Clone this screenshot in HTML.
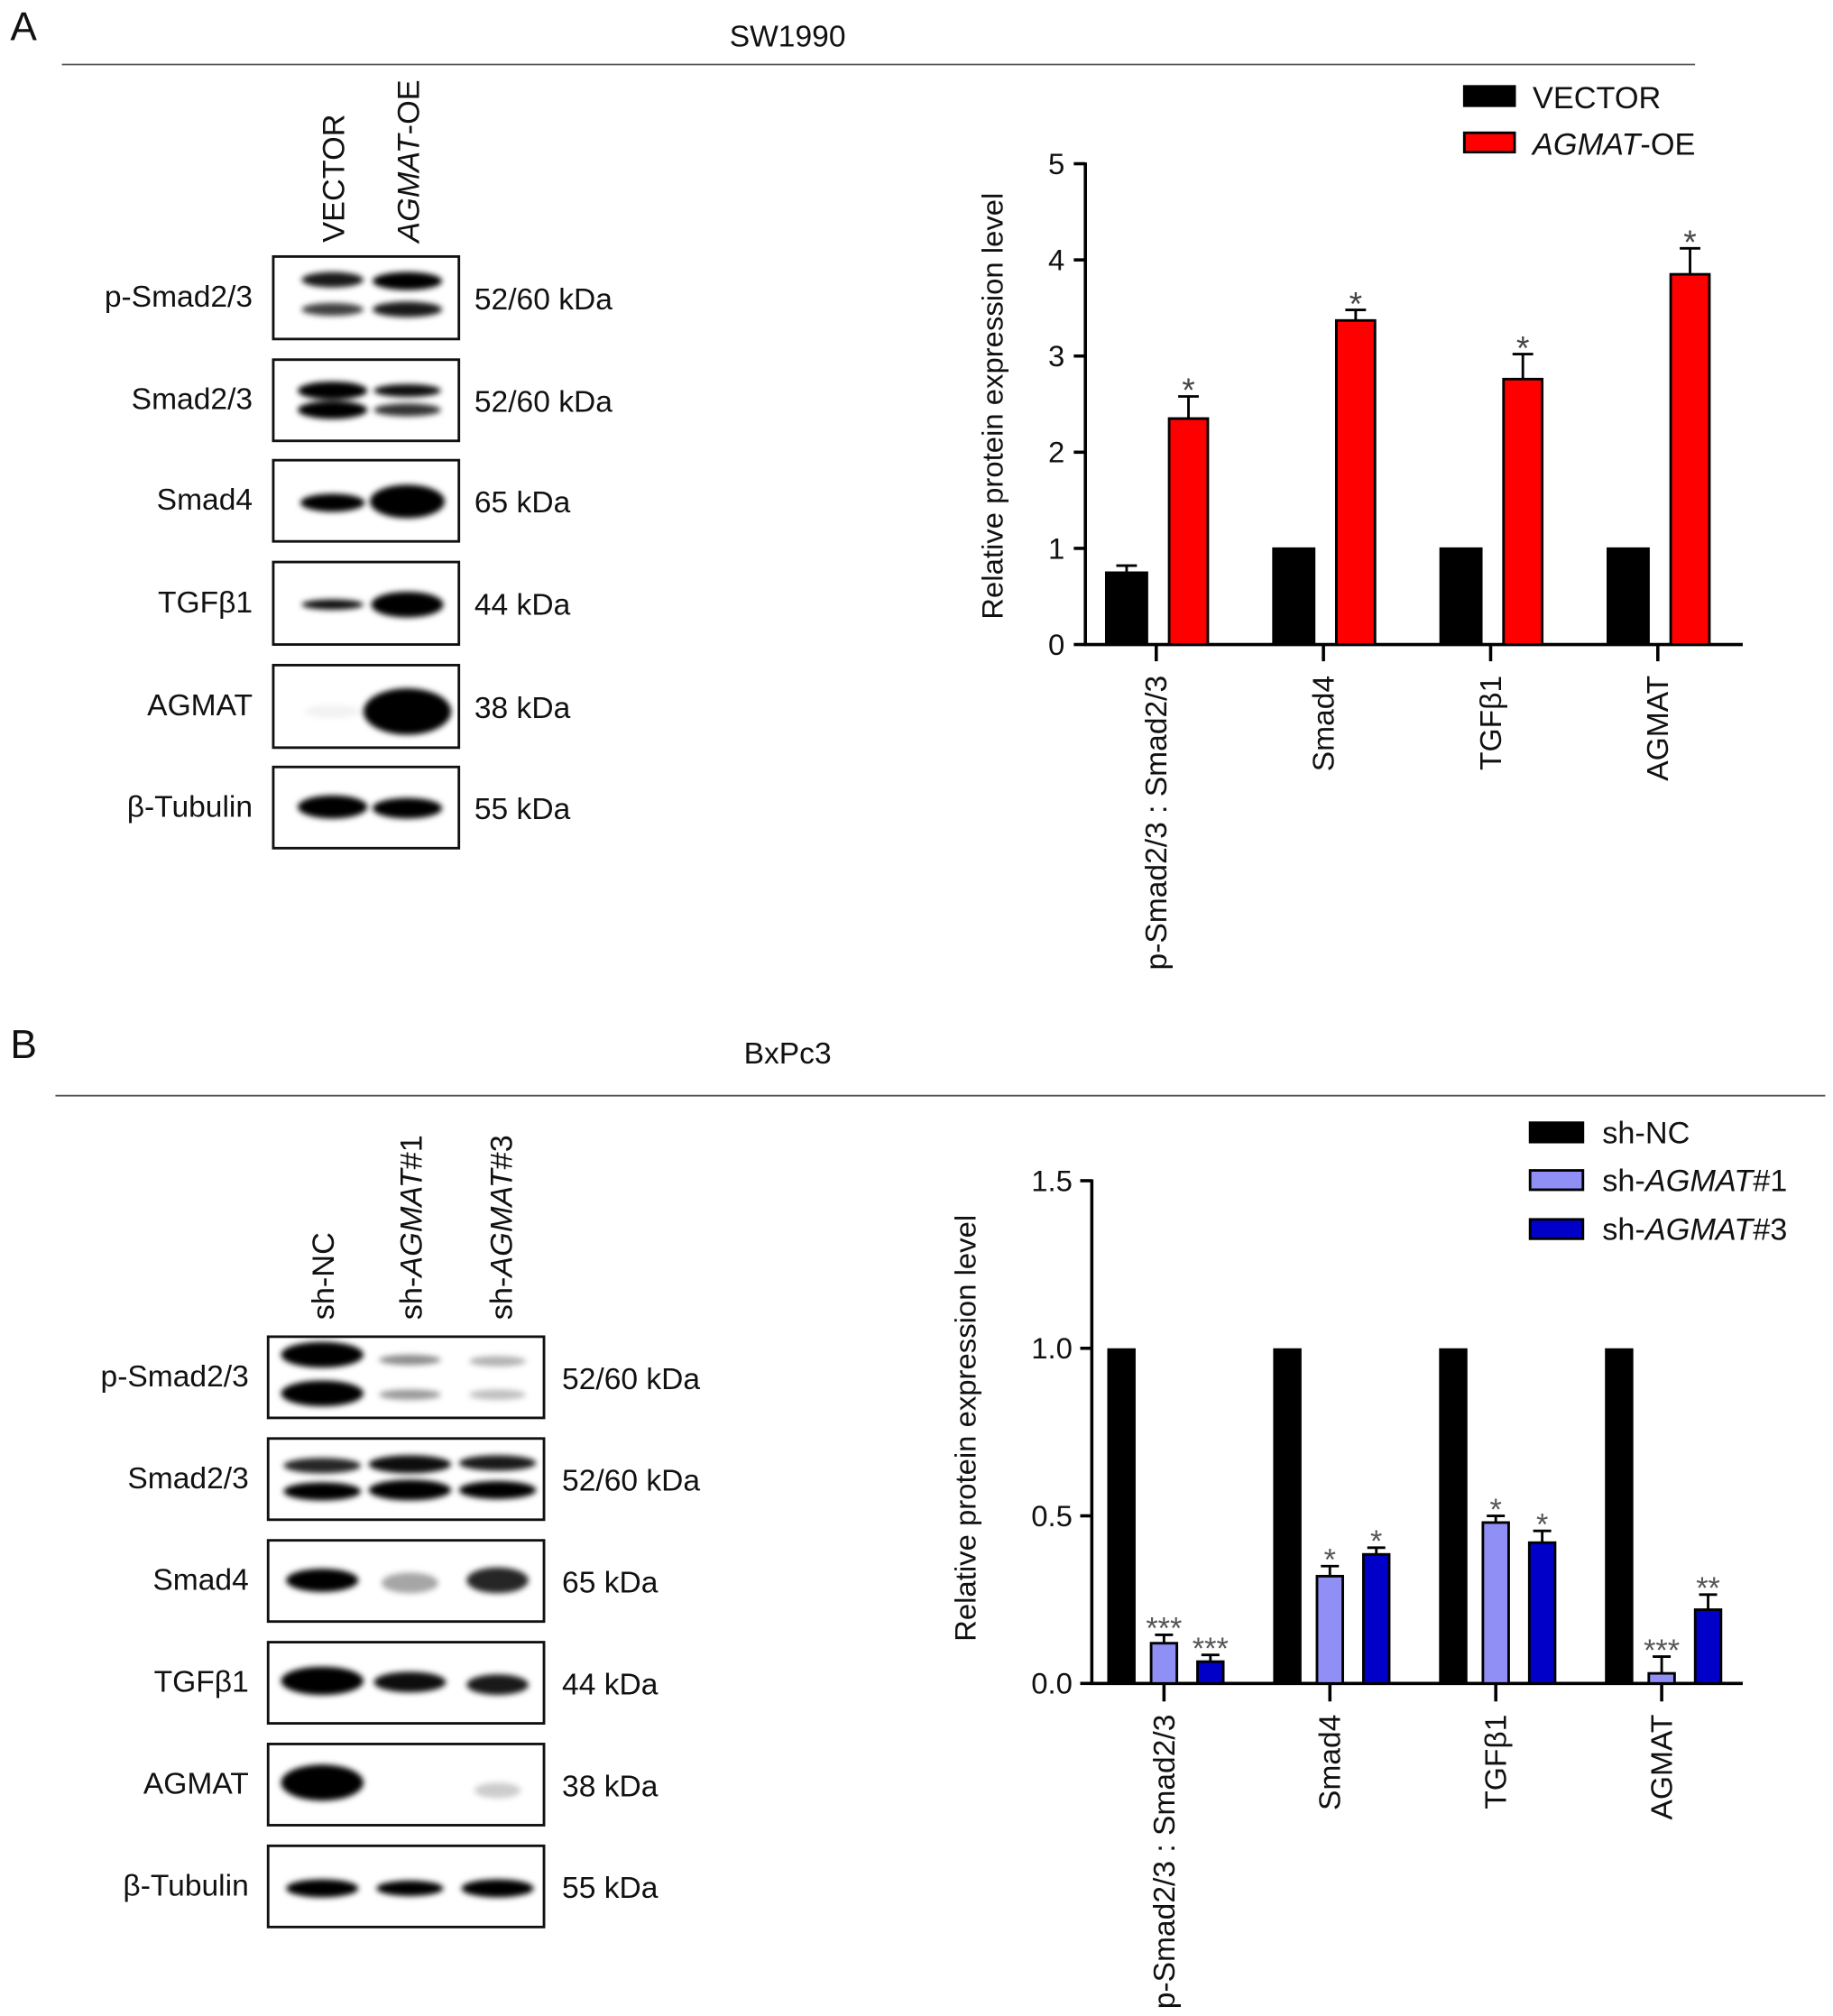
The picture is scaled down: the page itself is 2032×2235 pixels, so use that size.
<!DOCTYPE html>
<html><head><meta charset="utf-8"><style>
html,body{margin:0;padding:0;background:#fff;}
svg{display:block;font-family:"Liberation Sans",sans-serif;}
</style></head><body>
<svg id="fig" width="2032" height="2235" viewBox="0 0 1422 1564" xmlns="http://www.w3.org/2000/svg">
<defs><filter id="blur" x="-30%" y="-80%" width="160%" height="260%"><feGaussianBlur stdDeviation="2.2"/></filter></defs>
<g id="root"></g>
</svg>
<script>
// ---------- Chart A data ----------
const catsA = ["p-Smad2/3 : Smad2/3", "Smad4", "TGFβ1", "AGMAT"];
const vectorVals = [0.75, 1, 1, 1];
const vectorErr = [0.07, 0, 0, 0];
const oeVals = [2.35, 3.37, 2.76, 3.85];
const oeErr = [0.23, 0.11, 0.26, 0.27];
const oeStars = ["*", "*", "*", "*"];
const ticksA = [0, 1, 2, 3, 4, 5];
// ---------- Chart B data ----------
const catsB = ["p-Smad2/3 : Smad2/3", "Smad4", "TGFβ1", "AGMAT"];
const ncVals = [1, 1, 1, 1];
const sh1Vals = [0.12, 0.32, 0.48, 0.03];
const sh1Err = [0.025, 0.03, 0.02, 0.05];
const sh3Vals = [0.065, 0.385, 0.42, 0.22];
const sh3Err = [0.02, 0.02, 0.035, 0.045];
const sh1Stars = ["***", "*", "*", "***"];
const sh3Stars = ["***", "*", "*", "**"];
const ticksB = ["0.0", "0.5", "1.0", "1.5"];

const NS = "http://www.w3.org/2000/svg";
const root = document.getElementById('root');
function mk(tag, attrs, parent, text) {
  const e = document.createElementNS(NS, tag);
  for (const k in attrs) e.setAttribute(k, attrs[k]);
  if (text !== undefined) e.textContent = text;
  (parent || root).appendChild(e);
  return e;
}
function txt(x, y, s, opts, name) {
  const e = mk('text', Object.assign({x: x, y: y, 'font-size': 21, fill: '#111'}, opts || {}), null, s);
  
  
  return e;
}
function line(x1, y1, x2, y2, w, name, color) {
  const e = mk('line', {x1, y1, x2, y2, stroke: color || '#000', 'stroke-width': w});
  
  
  return e;
}

// ---------- headers ----------
txt(8, 31, "A", {'font-size': 31}, 'panel-a-label');
txt(611, 36, "SW1990", {'font-size': 23.5, 'text-anchor': 'middle'}, 'panel-a-title');
line(48, 50, 1315, 50, 1.3, 'panel-a-divider', '#555');
txt(8, 821, "B", {'font-size': 31}, 'panel-b-label');
txt(611, 825, "BxPc3", {'font-size': 23.5, 'text-anchor': 'middle'}, 'panel-b-title');
line(43, 850, 1416, 850, 1.3, 'panel-b-divider', '#555');

// ---------- Western blots ----------
function blot(x, w, y, h, label, kda, kx, lx, bands, name) {
  const g = mk('g', {});
  
  
  const bg = mk('rect', {x, y, width: w, height: h, fill: '#fff', stroke: '#111', 'stroke-width': 2}, g);
  
  
  const bg2 = mk('g', {filter: 'url(#blur)'}, g);
  bands.forEach(b => {
    const el = mk('ellipse', {cx: b[0], cy: y + b[1], rx: b[2], ry: b[3], fill: '#000', opacity: b[4]}, bg2);
    
    
  });
  txt(lx, y + h / 2 + 7, label, {'font-size': 23.5, 'text-anchor': 'end'}, name + '-label');
  txt(kx, y + h / 2 + 9, kda, {'font-size': 23.5}, name + '-kda');
}
// Panel A
const A1 = 258, A2 = 316;
blot(212, 144, 199, 64, "p-Smad2/3", "52/60 kDa", 368, 196,
  [[A1, 18, 24, 6, 0.9], [A1, 41, 24, 5, 0.75], [A2, 19, 27, 7, 1], [A2, 41, 27, 6, 0.9]], 'blot-a-psmad');
blot(212, 144, 279, 63, "Smad2/3", "52/60 kDa", 368, 196,
  [[A1, 24, 27, 7, 1], [A1, 39, 27, 7, 1], [A2, 24, 26, 5, 0.95], [A2, 39, 26, 5, 0.8]], 'blot-a-smad23');
blot(212, 144, 357, 63, "Smad4", "65 kDa", 368, 196,
  [[A1, 33, 25, 7, 1], [A2, 32, 29, 13, 1]], 'blot-a-smad4');
blot(212, 144, 436, 64, "TGFβ1", "44 kDa", 368, 196,
  [[A1, 33, 24, 4, 0.95], [A2, 33, 28, 10, 1]], 'blot-a-tgfb1');
blot(212, 144, 516, 64, "AGMAT", "38 kDa", 368, 196,
  [[A1, 36, 22, 5, 0.05], [A2, 36, 34, 18, 1]], 'blot-a-agmat');
blot(212, 144, 595, 63, "β-Tubulin", "55 kDa", 368, 196,
  [[A1, 31, 27, 9, 1], [A2, 32, 27, 8, 1]], 'blot-a-tubulin');
txt(0, 0, "VECTOR", {'font-size': 24, transform: 'translate(267,188) rotate(-90)'}, 'lane-label-vector');
const la2 = mk('text', {'font-size': 24, fill: '#111', transform: 'translate(325,188) rotate(-90)'});


mk('tspan', {'font-style': 'italic'}, la2, 'AGMAT');
mk('tspan', {}, la2, '-OE');

// Panel B
const B1 = 250, B2 = 318, B3 = 386;
blot(208, 214, 1037, 63, "p-Smad2/3", "52/60 kDa", 436, 193,
  [[B1, 14, 32, 10, 1], [B1, 44, 32, 10, 1], [B2, 18, 24, 4, 0.45], [B2, 45, 24, 4, 0.4], [B3, 19, 22, 4, 0.3], [B3, 45, 22, 4, 0.25]], 'blot-b-psmad');
blot(208, 214, 1116, 63, "Smad2/3", "52/60 kDa", 436, 193,
  [[B1, 21, 30, 6, 0.85], [B1, 41, 30, 7, 1], [B2, 20, 32, 7, 0.95], [B2, 40, 32, 8, 1], [B3, 19, 30, 6, 0.9], [B3, 40, 30, 7, 1]], 'blot-b-smad23');
blot(208, 214, 1195, 63, "Smad4", "65 kDa", 436, 193,
  [[B1, 31, 28, 9, 1], [B2, 33, 22, 8, 0.35], [B3, 31, 24, 10, 0.85]], 'blot-b-smad4');
blot(208, 214, 1274, 63, "TGFβ1", "44 kDa", 436, 193,
  [[B1, 30, 32, 11, 1], [B2, 31, 28, 8, 0.95], [B3, 33, 24, 8, 0.9]], 'blot-b-tgfb1');
blot(208, 214, 1353, 63, "AGMAT", "38 kDa", 436, 193,
  [[B1, 30, 32, 14, 1], [B3, 36, 18, 6, 0.2]], 'blot-b-agmat');
blot(208, 214, 1432, 63, "β-Tubulin", "55 kDa", 436, 193,
  [[B1, 33, 28, 7, 1], [B2, 33, 26, 6, 1], [B3, 33, 28, 7, 1]], 'blot-b-tubulin');
txt(0, 0, "sh-NC", {'font-size': 24, transform: 'translate(259,1024) rotate(-90)'}, 'lane-label-sh-nc');
[["#1", 327, 'lane-label-sh-agmat1'], ["#3", 397, 'lane-label-sh-agmat3']].forEach(a => {
  const t = mk('text', {'font-size': 24, fill: '#111', transform: `translate(${a[1]},1024) rotate(-90)`});
  
  
  mk('tspan', {}, t, 'sh-');
  mk('tspan', {'font-style': 'italic'}, t, 'AGMAT');
  mk('tspan', {}, t, a[0]);
});

// ---------- Chart A ----------
const yA = v => 500 - v * (500 - 127) / 5;
const xA = i => 897 + i * 129.7;
line(842, 126, 842, 501, 2.5, 'chart-a-y-axis');
line(841, 500, 1352, 500, 2.5, 'chart-a-x-axis');
ticksA.forEach(t => {
  line(833, yA(t), 842, yA(t), 2.5, 'chart-a-y-tick');
  txt(826, yA(t) + 8, String(t), {'font-size': 23, 'text-anchor': 'end'}, 'chart-a-y-tick-label');
});
txt(0, 0, "Relative protein expression level", {'font-size': 23, 'text-anchor': 'middle', transform: 'translate(778,315) rotate(-90)'}, 'chart-a-y-axis-title');
catsA.forEach((c, i) => {
  const cx = xA(i);
  line(cx, 500, cx, 513, 2.5, 'chart-a-x-tick');
  txt(0, 0, c, {'font-size': 23.5, 'text-anchor': 'end', transform: `translate(${cx + 8},524) rotate(-90)`}, 'chart-a-category-label');
  let b = mk('rect', {x: cx - 39, y: yA(vectorVals[i]), width: 32, height: yA(0) - yA(vectorVals[i]), fill: '#000', stroke: '#000', 'stroke-width': 1.5});
  
  
  if (vectorErr[i] > 0) {
    line(cx - 23, yA(vectorVals[i]), cx - 23, yA(vectorVals[i] + vectorErr[i]), 2, 'error-bar-vector');
    line(cx - 31, yA(vectorVals[i] + vectorErr[i]), cx - 15, yA(vectorVals[i] + vectorErr[i]), 2, 'error-cap-vector');
  }
  b = mk('rect', {x: cx + 10, y: yA(oeVals[i]), width: 30, height: yA(0) - yA(oeVals[i]), fill: '#ff0000', stroke: '#000', 'stroke-width': 2});
  
  
  const et = yA(oeVals[i] + oeErr[i]);
  line(cx + 25, yA(oeVals[i]), cx + 25, et, 2, 'error-bar-agmat-oe');
  line(cx + 17, et, cx + 33, et, 2, 'error-cap-agmat-oe');
  txt(cx + 25, et + 4, oeStars[i], {'font-size': 26, 'text-anchor': 'middle', fill: '#444'}, 'significance-star');
});
// legend A
let s = mk('rect', {x: 1136, y: 67, width: 39, height: 15, fill: '#000', stroke: '#000', 'stroke-width': 2});
 
txt(1189, 84, "VECTOR", {'font-size': 24}, 'legend-label-vector');
s = mk('rect', {x: 1136, y: 103, width: 39, height: 15, fill: '#ff0000', stroke: '#000', 'stroke-width': 2});
 
let lt = mk('text', {x: 1189, y: 120, 'font-size': 24, fill: '#111'});
 
mk('tspan', {'font-style': 'italic'}, lt, 'AGMAT'); mk('tspan', {}, lt, '-OE');

// ---------- Chart B ----------
const yB = v => 1306 - v * (1306 - 916) / 1.5;
const xB = i => 903 + i * 128.7;
line(847, 915, 847, 1307, 2.5, 'chart-b-y-axis');
line(846, 1306, 1352, 1306, 2.5, 'chart-b-x-axis');
ticksB.forEach(t => {
  const v = parseFloat(t);
  line(838, yB(v), 847, yB(v), 2.5, 'chart-b-y-tick');
  txt(832, yB(v) + 8, t, {'font-size': 23, 'text-anchor': 'end'}, 'chart-b-y-tick-label');
});
txt(0, 0, "Relative protein expression level", {'font-size': 23, 'text-anchor': 'middle', transform: 'translate(757,1108) rotate(-90)'}, 'chart-b-y-axis-title');
catsB.forEach((c, i) => {
  const cx = xB(i);
  line(cx, 1306, cx, 1320, 2.5, 'chart-b-x-tick');
  txt(0, 0, c, {'font-size': 23.5, 'text-anchor': 'end', transform: `translate(${cx + 8},1330) rotate(-90)`}, 'chart-b-category-label');
  let b = mk('rect', {x: cx - 44, y: yB(ncVals[i]), width: 22, height: yB(0) - yB(ncVals[i]), fill: '#000'});
   
  [[sh1Vals, sh1Err, sh1Stars, 0, '#8f8ff5', 'sh-agmat1'], [sh3Vals, sh3Err, sh3Stars, 36, '#0000c8', 'sh-agmat3']].forEach(sr => {
    const v = sr[0][i], e = sr[1][i], bx = cx + sr[3];
    const r = mk('rect', {x: bx - 10, y: yB(v), width: 20, height: yB(0) - yB(v), fill: sr[4], stroke: '#000', 'stroke-width': 2});
     
    const et = yB(v + e);
    line(bx, yB(v), bx, et, 2, 'error-bar-' + sr[5]);
    line(bx - 7, et, bx + 7, et, 2, 'error-cap-' + sr[5]);
    txt(bx, et + 3, sr[2][i], {'font-size': 24, 'text-anchor': 'middle', fill: '#555'}, 'significance-star');
  });
});
// legend B
[["sh-NC", '#000', 871, null, 'sh-nc'], ["#1", '#8f8ff5', 908, 1, 'sh-agmat1'], ["#3", '#0000c8', 946, 1, 'sh-agmat3']].forEach(L => {
  const r = mk('rect', {x: 1187, y: L[2], width: 41, height: 15, fill: L[1], stroke: '#000', 'stroke-width': 2});
   
  const t = mk('text', {x: 1243, y: L[2] + 16, 'font-size': 24, fill: '#111'});
   
  if (L[3] === null) t.textContent = L[0];
  else { mk('tspan', {}, t, 'sh-'); mk('tspan', {'font-style': 'italic'}, t, 'AGMAT'); mk('tspan', {}, t, L[0]); }
});
</script>
</body></html>
